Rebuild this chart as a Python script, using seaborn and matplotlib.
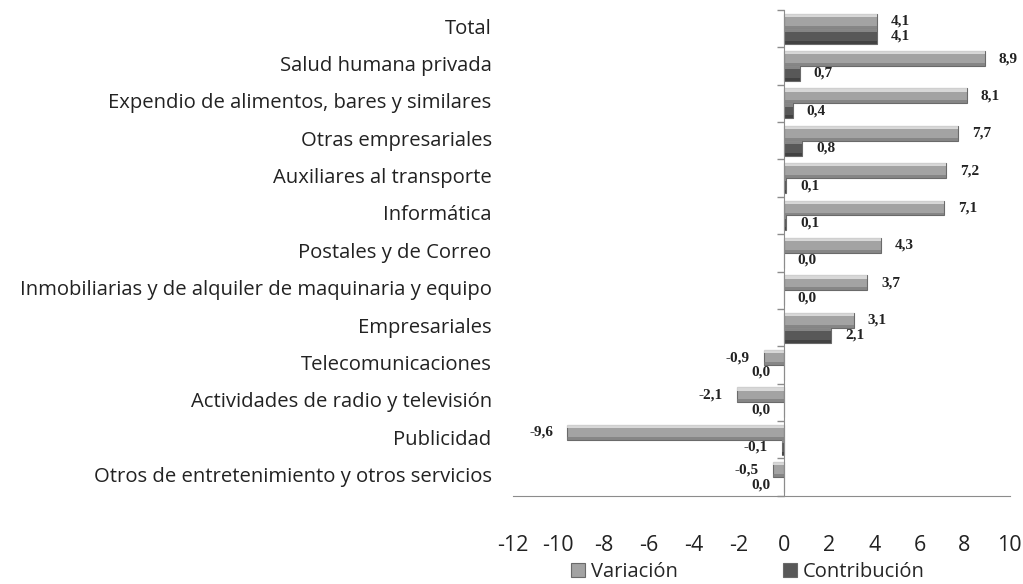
import numpy as np
import pandas as pd
import seaborn as sns
import matplotlib.pyplot as plt
from matplotlib.transforms import blended_transform_factory

# data
categorias = [
    'Total',
    'Salud humana privada',
    'Expendio de alimentos, bares y similares',
    'Otras empresariales',
    'Auxiliares al transporte',
    'Informática',
    'Postales y de Correo',
    'Inmobiliarias y de alquiler de maquinaria y equipo',
    'Empresariales',
    'Telecomunicaciones',
    'Actividades de radio y televisión',
    'Publicidad',
    'Otros de entretenimiento y otros servicios',
]
variacion = [4.1, 8.9, 8.1, 7.7, 7.2, 7.1, 4.3, 3.7, 3.1, -0.9, -2.1, -9.6, -0.5]
contribucion = [4.1, 0.7, 0.4, 0.8, 0.1, 0.1, 0.0, 0.0, 2.1, 0.0, 0.0, -0.1, 0.0]
series = ['Variación', 'Contribución']
xticks = list(range(-12, 11, 2))

df = pd.DataFrame({
    'categoria': categorias * 2,
    'valor': variacion + contribucion,
    'serie': [series[0]] * len(categorias) + [series[1]] * len(categorias),
})

sns.set_style('white')
plt.rcParams['font.family'] = ['Open Sans', 'DejaVu Sans']

fig = plt.figure(figsize=(10.23, 5.84), dpi=100)
ax = fig.add_axes([0.5015, 0.151, 0.4855, 0.832])

colores = {'Variación': '#a3a3a3', 'Contribución': '#585858'}
sns.barplot(data=df, y='categoria', x='valor', hue='serie', order=categorias,
            hue_order=series, palette=colores, orient='h', width=0.8,
            edgecolor='#6a6a6a', linewidth=0.8, ax=ax, legend=True)

# bevel look: light strip on top, darker strip at the bottom of each bar
for bar in list(ax.patches):
    x0, y0 = bar.get_x(), bar.get_y()
    w, h = bar.get_width(), bar.get_height()
    if w == 0 or h == 0:
        continue
    claro = bar.get_facecolor()[0] > 0.5
    hl = '#e2e2e2' if claro else '#8e8e8e'
    sh = '#7a7a7a' if claro else '#3a3a3a'
    z = bar.get_zorder() + 0.1
    ax.add_patch(plt.Rectangle((x0, y0), w, h * 0.22, facecolor=hl,
                               edgecolor='none', alpha=0.85, zorder=z))
    ax.add_patch(plt.Rectangle((x0, y0 + h * 0.8), w, h * 0.2, facecolor=sh,
                               edgecolor='none', alpha=0.7, zorder=z))

ax.set_xlim(-12, 10)
ax.set_ylim(len(categorias) - 0.5, -0.5)
ax.set_xticks(xticks)
ax.set_xticklabels([str(t) for t in xticks], fontsize=15.5, color='#222222')
ax.tick_params(axis='x', direction='out', length=6, width=1, color='#8c8c8c', pad=22)

# vertical axis sits on zero, labels stay on the left
ax.spines['left'].set_position(('data', 0))
for s in ['top', 'right']:
    ax.spines[s].set_visible(False)
ax.spines['left'].set_color('#8c8c8c')
ax.spines['bottom'].set_color('#8c8c8c')
ax.set_yticks(np.arange(len(categorias) + 1) - 0.5)
ax.set_yticklabels([])
ax.tick_params(axis='y', direction='out', length=5, width=1, color='#8c8c8c', left=True)
ax.set_xlabel('')
ax.set_ylabel('')

trans = blended_transform_factory(ax.transAxes, ax.transData)
for i, c in enumerate(categorias):
    ax.text(-0.043, i, c, transform=trans, ha='right', va='center',
            fontsize=14.6, color='#222222')

# value labels
off = 0.2
for i, (v, c) in enumerate(zip(variacion, contribucion)):
    lado = 1 if v >= 0 else -1
    for val, dy in [(v, -off), (c, off)]:
        txt = f'{val:.1f}'.replace('.', ',')
        ax.annotate(txt, (val if lado > 0 or val < 0 else 0, i + dy),
                    xytext=(10 * lado, 0), textcoords='offset points',
                    ha='left' if lado > 0 else 'right', va='center',
                    fontsize=11, family='Liberation Serif', fontweight='bold',
                    color='#222222')

handles, labels = ax.get_legend_handles_labels()
ax.legend(handles, labels, loc='lower center', bbox_to_anchor=(0.731, -0.028),
          bbox_transform=fig.transFigure, ncol=2, frameon=False, fontsize=14.5,
          handlelength=0.7, handleheight=0.7, handletextpad=0.3, columnspacing=5.2)

fig.savefig('out.png', dpi=100)
